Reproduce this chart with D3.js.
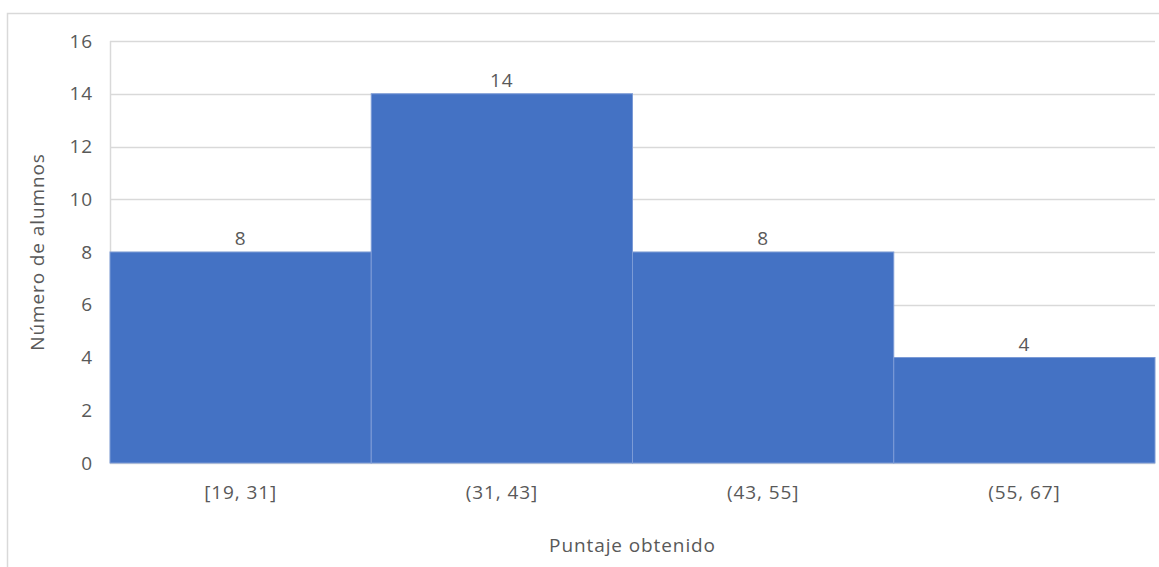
<!DOCTYPE html>
<html>
<head>
<meta charset="utf-8">
<script src="https://cdn.jsdelivr.net/npm/d3@7"></script>
<style>
  html, body { margin: 0; padding: 0; background: #fff; }
  svg { display: block; }
  text { font-family: "Open Sans", "Liberation Sans", sans-serif; fill: #595959; font-size: 19px; letter-spacing: 0.9px; }
</style>
</head>
<body>
<svg id="chart" width="1159" height="567"></svg>
<script>
// Histogram of scores: number of students per score interval
const categories = ["[19, 31]", "(31, 43]", "(43, 55]", "(55, 67]"];
const counts = [8, 14, 8, 4];
const yTicks = [0, 2, 4, 6, 8, 10, 12, 14, 16];

const svg = d3.select("#chart");
const W = 1159, H = 567;
const m = { left: 110, right: 4, top: 41, bottom: 104 };
const FONT = "'Open Sans', 'Liberation Sans', sans-serif";

// chart frame
svg.append("path")
  .attr("d", `M7.5,${H} V13.5 H${W}`)
  .attr("fill", "none")
  .attr("stroke", "#d9d9d9")
  .attr("stroke-width", 1.5);

const x = d3.scaleBand()
  .domain(categories)
  .range([m.left, W - m.right])
  .padding(0);

const y = d3.scaleLinear()
  .domain([0, 16])
  .range([H - m.bottom, m.top]);

// horizontal gridlines
svg.append("g")
  .selectAll("line")
  .data(yTicks)
  .join("line")
  .attr("x1", m.left)
  .attr("x2", W - m.right)
  .attr("y1", d => Math.round(y(d)) + 0.5)
  .attr("y2", d => Math.round(y(d)) + 0.5)
  .attr("stroke", "#d9d9d9")
  .attr("stroke-width", 1.5);

// left edge of the plot area
svg.append("line")
  .attr("x1", m.left + 0.5).attr("x2", m.left + 0.5)
  .attr("y1", y(16)).attr("y2", y(0))
  .attr("stroke", "#d9d9d9")
  .attr("stroke-width", 1.5);

// y axis tick labels
const yAxis = d3.axisLeft(y).tickValues(yTicks).tickSize(0).tickPadding(17);
const gy = svg.append("g").attr("transform", `translate(${m.left},0)`).call(yAxis);
gy.select(".domain").remove();
gy.selectAll("text")
  .style("font-size", "19px")
  .style("font-family", FONT)
  .attr("fill", "#595959");

// bars
svg.append("g")
  .selectAll("rect")
  .data(categories)
  .join("rect")
  .attr("x", d => x(d))
  .attr("y", (d, i) => y(counts[i]))
  .attr("width", x.bandwidth())
  .attr("height", (d, i) => y(0) - y(counts[i]))
  .attr("fill", "#4472c4")
  .attr("stroke", "#7c9bd6")
  .attr("stroke-width", 1);

// value labels
svg.append("g")
  .selectAll("text")
  .data(categories)
  .join("text")
  .attr("x", d => x(d) + x.bandwidth() / 2)
  .attr("y", (d, i) => y(counts[i]) - 7)
  .attr("text-anchor", "middle")
  .text((d, i) => counts[i]);

// x axis category labels
const xAxis = d3.axisBottom(x).tickSize(0).tickPadding(23);
const gx = svg.append("g").attr("transform", `translate(0,${y(0)})`).call(xAxis);
gx.select(".domain").remove();
gx.selectAll("text")
  .style("font-size", "19px")
  .style("font-family", FONT)
  .attr("fill", "#595959");

// axis titles
svg.append("text")
  .attr("x", (m.left + W - m.right) / 2)
  .attr("y", 552)
  .attr("text-anchor", "middle")
  .text("Puntaje obtenido");

svg.append("text")
  .attr("transform", `translate(44,${(y(0) + y(16)) / 2}) rotate(-90)`)
  .attr("text-anchor", "middle")
  .text("Número de alumnos");
</script>
</body>
</html>
